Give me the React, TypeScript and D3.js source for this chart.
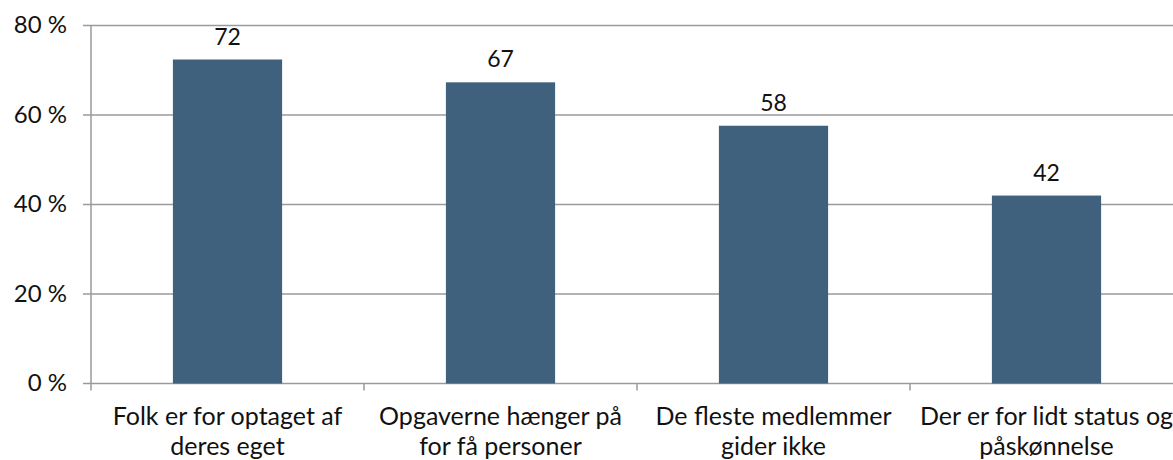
import React from "react";
import * as d3 from "d3";

const categories = [
  ["Folk er for optaget af", "deres eget"],
  ["Opgaverne hænger på", "for få personer"],
  ["De fleste medlemmer", "gider ikke"],
  ["Der er for lidt status og", "påskønnelse"],
];
const values = [72.4, 67.3, 57.6, 42.0];
const labels = ["72", "67", "58", "42"];
const yTicks = [0, 20, 40, 60, 80];

const W = 1173;
const H = 460;
const left = 91;
const catW = 273;
const y0 = 383.5;
const y80 = 25.5;
const font = "Lato, 'Open Sans', sans-serif";

export default function App() {
  const x = d3
    .scaleBand<number>()
    .domain(d3.range(categories.length))
    .range([left, left + catW * categories.length])
    .paddingInner(0)
    .paddingOuter(0);
  const y = d3.scaleLinear().domain([0, 80]).range([y0, y80]);
  const bw = x.bandwidth() * 0.4;
  return (
    <svg
      width={W}
      height={H}
      style={{ position: "absolute", left: 0, top: 0, display: "block" }}
    >
      <rect width={W} height={H} fill="#fff" />
      {yTicks.map((t) => (
        <g key={t}>
          <line
            x1={left - 8}
            x2={W}
            y1={y(t)}
            y2={y(t)}
            stroke="#9a9a9a"
            strokeWidth={1.5}
          />
          <text
            x={67}
            y={y(t)}
            dy="0.33em"
            textAnchor="end"
            fontFamily={font}
            fontSize={24}
            fill="#111"
          >
            {t} %
          </text>
        </g>
      ))}
      <line x1={left} x2={left} y1={y80} y2={y0 + 7} stroke="#9a9a9a" strokeWidth={1.5} />
      {categories.map((_, i) =>
        i > 0 ? (
          <line
            key={"t" + i}
            x1={x(i)!}
            x2={x(i)!}
            y1={y0}
            y2={y0 + 7}
            stroke="#9a9a9a"
            strokeWidth={1.5}
          />
        ) : null
      )}
      {values.map((v, i) => {
        const cx = x(i)! + x.bandwidth() / 2;
        return (
          <g key={i}>
            <rect
              x={cx - bw / 2}
              y={y(v)}
              width={bw}
              height={y(0) - y(v)}
              fill="#3f617d"
            />
            <text
              x={cx}
              y={y(v) - 15}
              textAnchor="middle"
              fontFamily={font}
              fontSize={23}
              fill="#111"
            >
              {labels[i]}
            </text>
            {categories[i].map((line, j) => (
              <text
                key={j}
                x={cx}
                y={425 + j * 30}
                textAnchor="middle"
                fontFamily={font}
                fontSize={25}
                fill="#111"
              >
                {line}
              </text>
            ))}
          </g>
        );
      })}
    </svg>
  );
}
